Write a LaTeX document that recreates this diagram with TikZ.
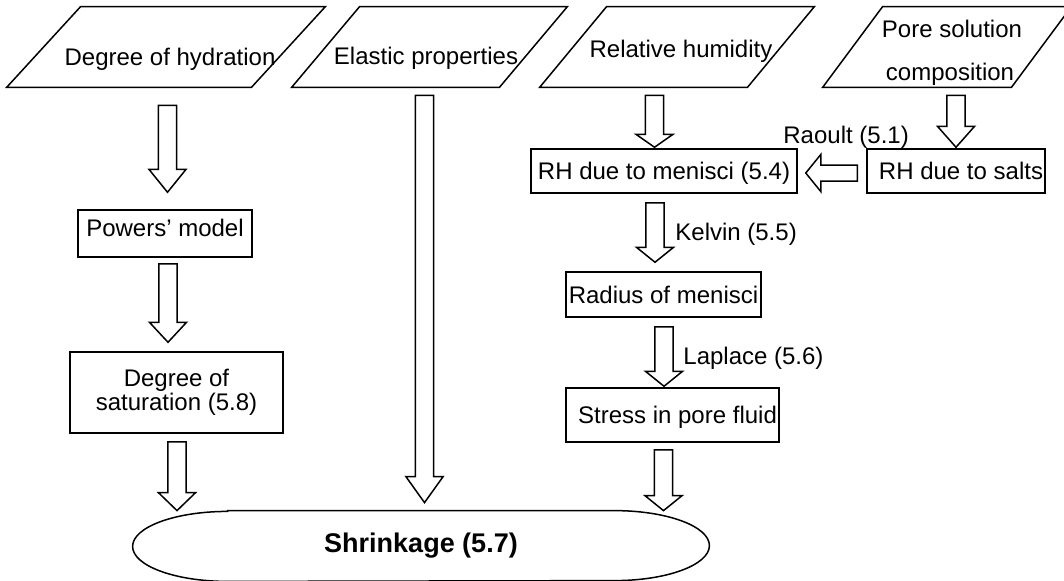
\documentclass[tikz,border=0pt]{standalone}
\usepackage{fontspec}
\setmainfont{Liberation Sans}
\usetikzlibrary{calc}

\tikzset{
  txt/.style={font=\fontsize{12}{14.4}\selectfont, inner sep=0pt},
  frame/.style={draw=black, line width=0.75pt, line join=miter},
  box/.style={txt, frame, rectangle},
  oneline/.style={text height=9pt, text depth=0.4pt},
  inshape/.style={rectangle, inner sep=0pt, minimum height=40pt},
  blk/.style={draw=black, fill=white, line width=0.75pt, line join=miter},
}

% hollow block arrow pointing down: [head length in px]{top centre}{tip}
\newcommand\blkdown[3][15]{%
  \draw[blk] let \p1=#2, \p2=#3 in
    (\x1-4.6pt,\y1) -- (\x1+4.6pt,\y1) -- (\x1+4.6pt,\y2+#1*0.5pt)
    -- (\x1+9.3pt,\y2+#1*0.5pt) -- (\x1,\y2) -- (\x1-9.3pt,\y2+#1*0.5pt)
    -- (\x1-4.6pt,\y2+#1*0.5pt) -- cycle;}
% hollow block arrow pointing left: [head length in px]{right end centre}{tip}
\newcommand\blkleft[3][15]{%
  \draw[blk] let \p1=#2, \p2=#3 in
    (\x1,\y1+4pt) -- (\x1,\y1-4pt) -- (\x2+#1*0.5pt,\y1-4pt)
    -- (\x2+#1*0.5pt,\y1-9.25pt) -- (\x2,\y1) -- (\x2+#1*0.5pt,\y1+9.25pt)
    -- (\x2+#1*0.5pt,\y1+4pt) -- cycle;}

\begin{document}
\begin{tikzpicture}[x=0.5pt,y=-0.5pt]
\fill[white] (0,0) rectangle (1064,580);
\useasboundingbox (0,0) rectangle (1064,580);

% input parallelograms
\node[inshape, minimum width=159pt] (p1) at (166,47) {};
\node[inshape, minimum width=137.5pt] (p2) at (429.5,47) {};
\node[inshape, minimum width=137pt] (p3) at (677,47) {};
\node[inshape, minimum width=124pt] (p4) at (947,47) {};
\draw[frame] (p1.south west) -- ($(p1.north west)+(74,0)$) -- (p1.north east) -- ($(p1.south east)+(-74,0)$) -- cycle;
\draw[frame] (p2.south west) -- ($(p2.north west)+(68,0)$) -- (p2.north east) -- ($(p2.south east)+(-68,0)$) -- cycle;
\draw[frame] (p3.south west) -- ($(p3.north west)+(67,0)$) -- (p3.north east) -- ($(p3.south east)+(-67,0)$) -- cycle;
\draw[frame] (p4.south west) -- ($(p4.north west)+(60,0)$) -- (p4.north east) -- ($(p4.south east)+(-60,0)$) -- cycle;
\node[txt, anchor=base] (t1) at (170,65) {Degree of hydration};
\node[txt, anchor=base] (t2) at (426,64) {Elastic properties};
\node[txt, anchor=base] (t3) at (681,57) {Relative humidity};
\node[txt, anchor=base] (t4a) at (952,37) {Pore solution};
\node[txt, anchor=base] (t4b) at (950,80) {composition};

% process boxes
\node[box, oneline, text depth=6.4pt, minimum width=87pt, minimum height=23.5pt] (powers) at (165,233.5) {Powers’ model};
\node[box, align=center, font=\fontsize{12}{12}\selectfont, minimum width=106.5pt, minimum height=40.5pt] (sat) at (176.5,392.5) {Degree of\\saturation (5.8)};
\node[box, oneline, minimum width=133pt, minimum height=22pt] (rhm) at (664,171) {RH due to menisci (5.4)};
\node[box, oneline, minimum width=89pt, minimum height=22pt] (salts) at (956,171) {\hspace*{5pt}RH due to salts};
\node[box, oneline, minimum width=97.5pt, minimum height=22.5pt] (radius) at (663.5,294.5) {Radius of menisci};
\node[box, oneline, minimum width=106.5pt, minimum height=27pt] (stress) at (672.5,415) {\hspace*{5pt}Stress in pore fluid};

% result terminator
\node[inner sep=0pt, minimum width=288pt, minimum height=35pt,
      font=\fontsize{13.5}{16}\selectfont\bfseries] (shrink) at (421,546) {Shrinkage (5.7)};
\draw[frame] ($(shrink.north west)+(95,0)$) -- ($(shrink.north east)+(-95,0)$)
  arc[start angle=90, end angle=-90, x radius=47.5pt, y radius=17.5pt]
  -- ($(shrink.south west)+(95,0)$)
  arc[start angle=-90, end angle=-270, x radius=47.5pt, y radius=17.5pt] -- cycle;

% block arrows
\blkdown[23]{($(p1.south)+(1.5,18)$)}{($(powers.north)+(0,-17)$)}
\blkdown[20]{($(powers.south)+(3,6)$)}{($(sat.north)+(0,-9)$)}
\blkdown[18]{($(sat.south)+(0.5,8)$)}{(shrink.north)}
\blkdown[26]{($(p2.south)+(-5,8)$)}{($(shrink.north)+(0,-8)$)}
\blkdown[13]{($(p3.south)+(-22.5,8)$)}{($(rhm.north)+(0,-1)$)}
\blkdown{($(rhm.south)+(-9,9)$)}{($(radius.north)+(0,-9)$)}
\blkdown{($(radius.south)+(0.5,9)$)}{($(stress.north)+(0,-1)$)}
\blkdown{($(stress.south)+(-9,7)$)}{(shrink.north)}
\blkdown[21]{($(p4.south)+(9,8)$)}{($(salts.north)+(0,-1)$)}
\blkleft{($(salts.west)+(-9,2)$)}{($(rhm.east)+(8,0)$)}

% arrow labels
\node[txt, anchor=base west] (raoult) at (783,143) {Raoult (5.1)};
\node[txt, anchor=base west] (kelvin) at (675,240) {Kelvin (5.5)};
\node[txt, anchor=base west] (laplace) at (683,364) {Laplace (5.6)};
\end{tikzpicture}
\end{document}
